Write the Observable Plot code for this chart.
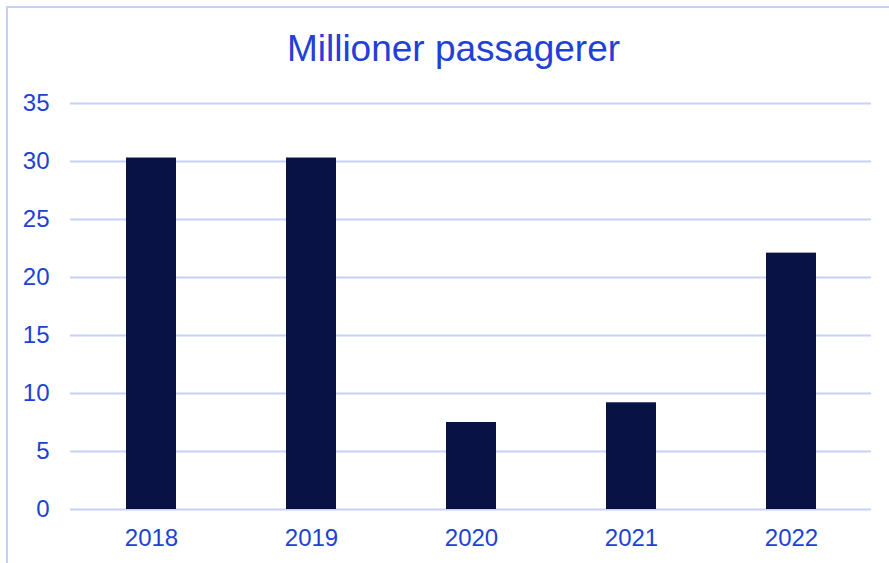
<!DOCTYPE html>
<html>
<head>
<meta charset="utf-8">
<script src="https://cdn.jsdelivr.net/npm/d3@7"></script>
<script src="https://cdn.jsdelivr.net/npm/@observablehq/plot@0.6"></script>
<style>
  html, body { margin: 0; padding: 0; background: #fff; }
  #wrap { position: relative; width: 889px; height: 563px; overflow: hidden; font-family: "Liberation Sans", Arial, Helvetica, sans-serif; }
  #frame { position: absolute; left: 6px; top: 6px; width: 1000px; height: 1000px; border-left: 2px solid #c8d0f8; border-top: 2px solid #c8d0f8; box-sizing: border-box; pointer-events: none; }
  #title { height: 80px; box-sizing: border-box; padding-left: 18px; padding-top: 30px; text-align: center; font-size: 37px; line-height: 37px; color: #2141d6; }
  #chart svg { display: block; }
</style>
</head>
<body>
<div id="wrap">
  <div id="title">Millioner passagerer</div>
  <div id="chart"></div>
  <div id="frame"></div>
</div>
<script>
const years = ["2018", "2019", "2020", "2021", "2022"];
const passengers = [30.3, 30.3, 7.5, 9.2, 22.1];
const yTicks = [0, 5, 10, 15, 20, 25, 30, 35];

const data = years.map((y, i) => ({year: y, value: passengers[i]}));

const textColor = "#2141d6";
const gridColor = "#c8d0f8";
const barColor = "#081244";

const chart = Plot.plot({
  width: 889,
  height: 483,
  marginTop: 23,
  marginBottom: 54,
  marginLeft: 70,
  marginRight: 18,
  style: {
    fontFamily: '"Liberation Sans", Arial, Helvetica, sans-serif',
    fontSize: "24px",
    color: textColor,
    background: "transparent",
    overflow: "visible"
  },
  x: {domain: years, paddingInner: 0.6875, paddingOuter: 0.34375, label: null},
  y: {domain: [0, 35], label: null},
  marks: [
    Plot.gridY(yTicks, {stroke: gridColor, strokeOpacity: 1, strokeWidth: 2}),
    Plot.barY(data, {x: "year", y: "value", fill: barColor}),
    Plot.axisY(yTicks, {tickSize: 0, tickPadding: 21, fontSize: 24, fill: textColor, label: null}),
    Plot.axisX({tickSize: 0, tickPadding: 19, fontSize: 24, fill: textColor, label: null})
  ]
});
document.getElementById("chart").appendChild(chart);
</script>
</body>
</html>
